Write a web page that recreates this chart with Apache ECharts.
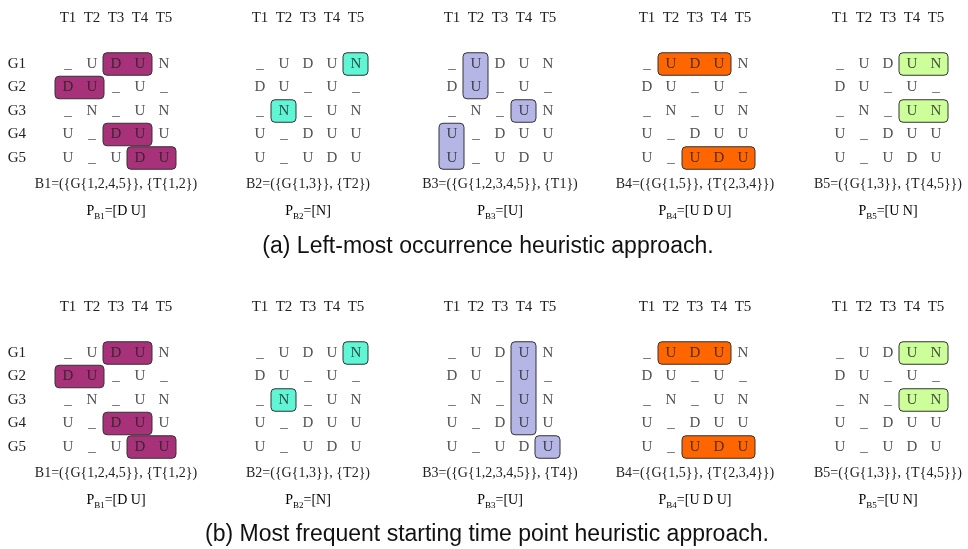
<!DOCTYPE html>
<html>
<head>
<meta charset="utf-8">
<script src="https://cdn.jsdelivr.net/npm/echarts@6/dist/echarts.min.js"></script>
<style>
  html, body { margin: 0; padding: 0; background: #fff; }
  #main { width: 968px; height: 549px; }
</style>
</head>
<body>
<div id="main"></div>
<script>
var times = ['T1', 'T2', 'T3', 'T4', 'T5'];
var genes = ['G1', 'G2', 'G3', 'G4', 'G5'];

// same expression matrix in every panel (rows G1..G5, columns T1..T5)
var matrix = [
    ['_', 'U', 'D', 'U', 'N'],
    ['D', 'U', '_', 'U', '_'],
    ['_', 'N', '_', 'U', 'N'],
    ['U', '_', 'D', 'U', 'U'],
    ['U', '_', 'U', 'D', 'U']
];

var blockNames = ['B1', 'B2', 'B3', 'B4', 'B5'];
var patterns = ['D U', 'N', 'U', 'U D U', 'U N'];
var blockLabelsA = [
    'B1=({G{1,2,4,5}}, {T{1,2})',
    'B2=({G{1,3}}, {T2})',
    'B3=({G{1,2,3,4,5}}, {T1})',
    'B4=({G{1,5}}, {T{2,3,4}})',
    'B5=({G{1,3}}, {T{4,5}})'
];
var blockLabelsB = [
    'B1=({G{1,2,4,5}}, {T{1,2})',
    'B2=({G{1,3}}, {T2})',
    'B3=({G{1,2,3,4,5}}, {T4})',
    'B4=({G{1,5}}, {T{2,3,4}})',
    'B5=({G{1,3}}, {T{4,5}})'
];

// highlighted occurrences: [first T, last T, first G, last G] (0-based)
var boxesA = [
    [[2, 3, 0, 0], [0, 1, 1, 1], [2, 3, 3, 3], [3, 4, 4, 4]],
    [[4, 4, 0, 0], [1, 1, 2, 2]],
    [[1, 1, 0, 1], [3, 3, 2, 2], [0, 0, 3, 4]],
    [[1, 3, 0, 0], [2, 4, 4, 4]],
    [[3, 4, 0, 0], [3, 4, 2, 2]]
];
var boxesB = [
    [[2, 3, 0, 0], [0, 1, 1, 1], [2, 3, 3, 3], [3, 4, 4, 4]],
    [[4, 4, 0, 0], [1, 1, 2, 2]],
    [[3, 3, 0, 3], [4, 4, 4, 4]],
    [[1, 3, 0, 0], [2, 4, 4, 4]],
    [[3, 4, 0, 0], [3, 4, 2, 2]]
];

var captions = ['(a) Left-most occurrence heuristic approach.',
                '(b) Most frequent starting time point heuristic approach.'];

var blockColors = ['#a7327a', '#5ff6d6', '#b6b6e6', '#ff6600', '#ccff99'];

var SERIF = '"Liberation Serif", "DejaVu Serif", serif';
var SANS = '"Liberation Sans", Arial, sans-serif';
var firstCol = [68, 260, 452, 647, 840];
var rowTop = [52.25, 341.25];

var myChart = echarts.init(document.getElementById('main'));

var cells = [];
matrix.forEach(function (row, g) {
    row.forEach(function (v, t) { cells.push([t, g, v]); });
});

var grids = [], xAxes = [], yAxes = [], series = [], graphics = [];

[boxesA, boxesB].forEach(function (boxes, part) {
    var labels = part === 0 ? blockLabelsA : blockLabelsB;
    for (var b = 0; b < 5; b++) {
        var idx = grids.length;
        grids.push({ left: firstCol[b] - 12, top: rowTop[part], width: 120, height: 117.5 });
        xAxes.push({
            type: 'category', gridIndex: idx, data: times, position: 'top',
            axisLine: { show: false }, axisTick: { show: false }, splitLine: { show: false },
            axisLabel: { margin: 27, fontFamily: SERIF, fontSize: 15, color: '#222' }
        });
        yAxes.push({
            type: 'category', gridIndex: idx, data: genes, inverse: true,
            axisLine: { show: false }, axisTick: { show: false }, splitLine: { show: false },
            axisLabel: { show: b === 0, margin: 30, fontFamily: SERIF, fontSize: 15, color: '#222' }
        });
        series.push({
            type: 'custom', xAxisIndex: idx, yAxisIndex: idx, z: 1,
            data: boxes[b],
            itemStyle: { color: blockColors[b], borderColor: '#333', borderWidth: 1 },
            renderItem: function (params, api) {
                var p0 = api.coord([api.value(0), api.value(2)]);
                var p1 = api.coord([api.value(1), api.value(3)]);
                var s = api.size([1, 1]);
                return {
                    type: 'rect',
                    shape: {
                        x: p0[0] - s[0] / 2 - 1,
                        y: p0[1] - s[1] / 2 + 0.5,
                        width: p1[0] - p0[0] + s[0] + 1,
                        height: p1[1] - p0[1] + s[1] - 1,
                        r: 4
                    },
                    style: api.style()
                };
            }
        });
        series.push({
            type: 'scatter', xAxisIndex: idx, yAxisIndex: idx, z: 3,
            symbolSize: 0, silent: true,
            data: cells,
            label: {
                show: true, position: 'inside',
                formatter: function (p) { return p.value[2]; },
                fontFamily: SERIF, fontSize: 15, color: '#222'
            }
        });
        var cx = firstCol[b] + 48;
        var baseY = part === 0 ? 184 : 473;
        graphics.push({
            type: 'text', x: cx, y: baseY,
            style: { text: labels[b], font: '14px ' + SERIF, fill: '#222',
                     textAlign: 'center', textVerticalAlign: 'middle' }
        });
        graphics.push({
            type: 'text', x: cx, y: baseY + 27,
            style: {
                text: '{p|P}{s|' + blockNames[b] + '}{p|=[' + patterns[b] + ']}',
                textAlign: 'center', textVerticalAlign: 'middle',
                rich: {
                    p: { fontFamily: SERIF, fontSize: 14, color: '#222', lineHeight: 20, verticalAlign: 'middle' },
                    s: { fontFamily: SERIF, fontSize: 9, color: '#222', lineHeight: 20, verticalAlign: 'bottom' }
                }
            }
        });
    }
});

graphics.push({
    type: 'text', x: 488, y: 247,
    style: { text: captions[0], font: '23px ' + SANS, fill: '#111', textAlign: 'center', textVerticalAlign: 'middle' }
});
graphics.push({
    type: 'text', x: 487, y: 535,
    style: { text: captions[1], font: '23px ' + SANS, fill: '#111', textAlign: 'center', textVerticalAlign: 'middle' }
});

var option = {
    animation: false,
    grid: grids,
    xAxis: xAxes,
    yAxis: yAxes,
    series: series,
    graphic: graphics
};

myChart.setOption(option);
</script>
</body>
</html>
